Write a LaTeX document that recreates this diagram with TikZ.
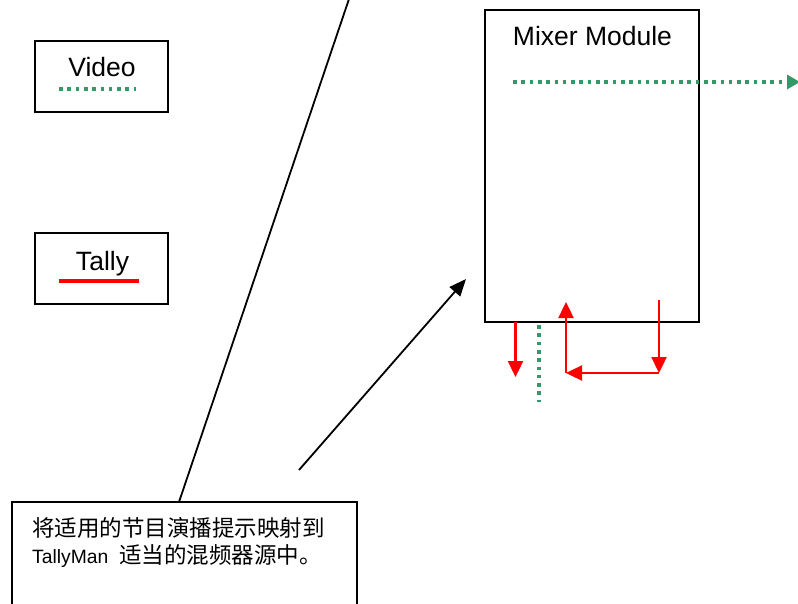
\documentclass[tikz,border=0pt]{standalone}
\usepackage{fontspec}
\setmainfont{Liberation Sans}
\newfontfamily\cjk{Noto Sans CJK SC}
\usetikzlibrary{arrows.meta}
\definecolor{vgreen}{RGB}{51,153,102}
\tikzset{
  box/.style={draw=black,line width=1.8pt},
  lbl/.style={font=\fontsize{26.5}{30}\selectfont,inner sep=0pt,anchor=base},
  videoline/.style={vgreen,line width=3.6pt,dash pattern=on 3.6pt off 4.7pt},
  tallyline/.style={red,line width=2.4pt},
  redtip/.style={-{Triangle[length=16pt,width=15pt]}},
  blackline/.style={black,line width=1.8pt},
}
\begin{document}
\begin{tikzpicture}[x=1pt,y=-1pt]
\useasboundingbox (0,0) rectangle (798,604);
% legend boxes
\draw[box] (35,41) rectangle (168,112);
\node[lbl] (vid) at (102,77) {Video};
\coordinate (v1) at (59,89); \coordinate (v2) at (136,89);
\draw[videoline] (v1) -- (v2);
\draw[box] (35,233) rectangle (168,304);
\node[lbl] (tal) at (102.5,270) {Tally};
\coordinate (t1) at (59,281); \coordinate (t2) at (139,281);
\draw[red,line width=3.5pt] (t1) -- (t2);
% mixer module
\draw[box] (485,10) rectangle (699,322);
\node[lbl] (mix) at (592.5,46) {Mixer Module};
\coordinate (g1) at (513,82); \coordinate (g2) at (800,82);
\draw[videoline,-{Triangle[length=13pt,width=14pt]}] (g1) -- (g2);
% bottom signals
\coordinate (r1a) at (515.5,322); \coordinate (r1b) at (515.5,377);
\draw[tallyline,redtip] (r1a) -- (r1b);
\coordinate (gv1) at (539,325); \coordinate (gv2) at (539,402);
\draw[videoline] (gv1) -- (gv2);
\coordinate (ra) at (659,300); \coordinate (rb) at (659,373); \coordinate (rc) at (566,373); \coordinate (rd) at (566,302);
\draw[tallyline,redtip] (ra) -- (rb);
\draw[tallyline,redtip] (rb) -- (rc);
\draw[tallyline,redtip] (rc) -- (rd);
% callout
\draw[box] (12,606) -- (12,502) -- (357,502) -- (357,606);
\coordinate (ctop) at (349,-1); \coordinate (cbot) at (179,502);
\draw[blackline] (ctop) -- (cbot);
\coordinate (aa) at (299,470); \coordinate (ab) at (466,279);
\draw[blackline,-{Triangle[length=17pt,width=14pt]}] (aa) -- (ab);
\node[inner sep=0pt,anchor=west] (c1) at (32,528) {\cjk\fontsize{22.5}{26}\selectfont 将适用的节目演播提示映射到};
\node[inner sep=0pt,anchor=west] (c2) at (32,556) {\fontsize{19.3}{22}\selectfont TallyMan\hspace{11pt}{\cjk\fontsize{22.5}{26}\selectfont 适当的混频器源中。}};
\end{tikzpicture}
\end{document}
